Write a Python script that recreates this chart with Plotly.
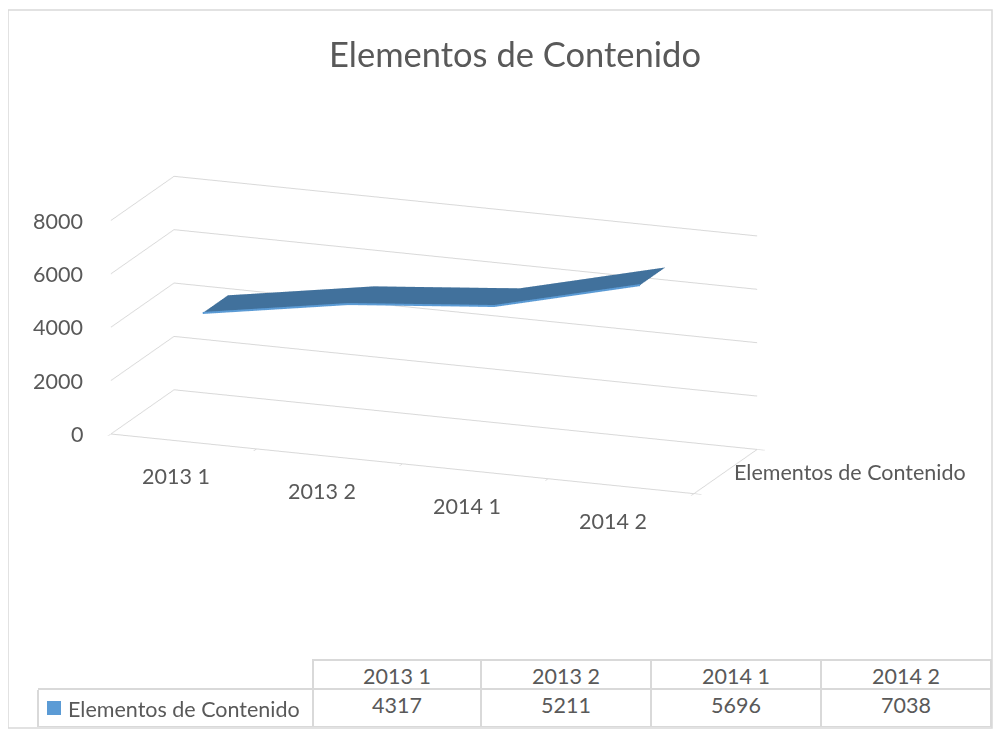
import plotly.graph_objects as go

title_text = "Elementos de Contenido"
series_name = "Elementos de Contenido"
categories = ["2013 1", "2013 2", "2014 1", "2014 2"]
values = [4317, 5211, 5696, 7038]
z_ticks = [0, 2000, 4000, 6000, 8000]

OFF = 8  # body margin of the page
W, H = 1007 - 2 * OFF, 751 - 2 * OFF
FONT = "Lato, Carlito, Calibri, sans-serif"
TXT = "#595959"
GRID = "#D9D9D9"
LBL = 21.5

xs = list(range(len(categories)))
d0, d1 = 0.3, 0.7
x_lo, x_hi = -0.5, len(categories) - 0.5
SCALE = 0.67


def px_x(p):
    return (p - OFF) / W


def px_y(p):
    return 1 - (p - OFF) / H


fig = go.Figure()

fig.add_trace(go.Surface(
    x=[xs, xs],
    y=[[d0] * len(xs), [d1] * len(xs)],
    z=[values, values],
    surfacecolor=[[0] * len(xs), [0] * len(xs)],
    colorscale=[[0, "#41719C"], [1, "#41719C"]],
    showscale=False,
    lighting=dict(ambient=1, diffuse=0, specular=0, fresnel=0, roughness=1),
    hoverinfo="skip",
))
fig.add_trace(go.Scatter3d(
    x=xs, y=[d0] * len(xs), z=values,
    mode="lines", line=dict(color="#5B9BD5", width=4),
    hoverinfo="skip", showlegend=False,
))

ax_common = dict(showbackground=False, title=dict(text=""), showticklabels=False,
                 showspikes=False, zeroline=False)

scene_ann = []
for i, c in enumerate(categories):
    scene_ann.append(dict(x=xs[i], y=0, z=0, text=c, showarrow=False,
                          xanchor="center", yanchor="middle", xshift=-8, yshift=-35,
                          font=dict(family=FONT, size=LBL, color=TXT)))
for t in z_ticks:
    scene_ann.append(dict(x=x_lo, y=0, z=t, text=str(t), showarrow=False,
                          xanchor="right", yanchor="middle", xshift=-26,
                          font=dict(family=FONT, size=LBL, color=TXT)))
scene_ann.append(dict(x=x_hi, y=0.5, z=0, text=series_name, showarrow=False,
                      xanchor="left", yanchor="middle", xshift=6,
                      font=dict(family=FONT, size=LBL, color=TXT)))

fig.update_layout(
    width=W, height=H,
    margin=dict(l=0, r=0, t=0, b=0),
    paper_bgcolor="white",
    showlegend=False,
    title=dict(text=title_text, x=px_x(515), xanchor="center", y=px_y(55), yanchor="middle",
               font=dict(family=FONT, size=34.5, color=TXT)),
    scene=dict(
        domain=dict(x=[px_x(8), px_x(860)], y=[px_y(653), px_y(17)]),
        xaxis=dict(ax_common, range=[x_lo, x_hi],
                   tickvals=[x_lo] + [x + 0.5 for x in xs], showgrid=False,
                   ticks="outside", ticklen=8, tickcolor=GRID, tickwidth=2,
                   showline=True, linecolor=GRID, linewidth=2),
        yaxis=dict(ax_common, range=[0, 1], tickvals=[0, 1],
                   ticks="outside", ticklen=8, tickcolor=GRID, tickwidth=2,
                   showgrid=False, showline=True, linecolor=GRID, linewidth=2),
        zaxis=dict(ax_common, range=[0, 8000], tickvals=z_ticks,
                   showgrid=True, gridcolor=GRID, gridwidth=2, showline=False),
        aspectmode="manual",
        aspectratio=dict(x=2.93 * SCALE, y=0.83 * SCALE, z=1.04 * SCALE),
        camera=dict(eye=dict(x=1.17, y=-3.06, z=0.91), center=dict(x=0, y=0, z=0),
                    up=dict(x=0, y=0, z=1),
                    projection=dict(type="orthographic")),
        annotations=scene_ann,
    ),
)

col_w = [275, 168, 170, 170, 170]
cell_line = ["white"] + [GRID] * len(categories)
fig.add_trace(go.Table(
    domain=dict(x=[px_x(38), px_x(991)], y=[px_y(728), px_y(660)]),
    columnwidth=col_w,
    header=dict(values=[""] + categories,
                fill_color="white", line=dict(color=cell_line, width=2),
                align="center", height=29,
                font=dict(family=FONT, size=LBL, color=TXT)),
    cells=dict(values=[[""]] + [[str(v)] for v in values],
               fill_color="white", line=dict(color=GRID, width=2),
               align="center", height=38,
               font=dict(family=FONT, size=LBL, color=TXT)),
))

# top border of the series-name cell (hidden under the blank header cell)
fig.add_shape(type="line", xref="paper", yref="paper",
              x0=px_x(38), x1=px_x(313), y0=px_y(689), y1=px_y(689),
              line=dict(color=GRID, width=2))

# legend key + series name in the table's first column
fig.add_shape(type="rect", xref="paper", yref="paper",
              x0=px_x(47), x1=px_x(61), y0=px_y(715), y1=px_y(701),
              line=dict(width=0), fillcolor="#5B9BD5")
fig.add_annotation(xref="paper", yref="paper", x=px_x(66), y=px_y(709),
                   text=series_name, showarrow=False, xanchor="left", yanchor="middle",
                   font=dict(family=FONT, size=LBL, color=TXT))

fig.add_shape(type="rect", xref="paper", yref="paper",
              x0=px_x(8), x1=px_x(992), y0=px_y(728), y1=px_y(10),
              line=dict(color=GRID, width=1.5), fillcolor="rgba(0,0,0,0)")

fig.write_html("out.html")
